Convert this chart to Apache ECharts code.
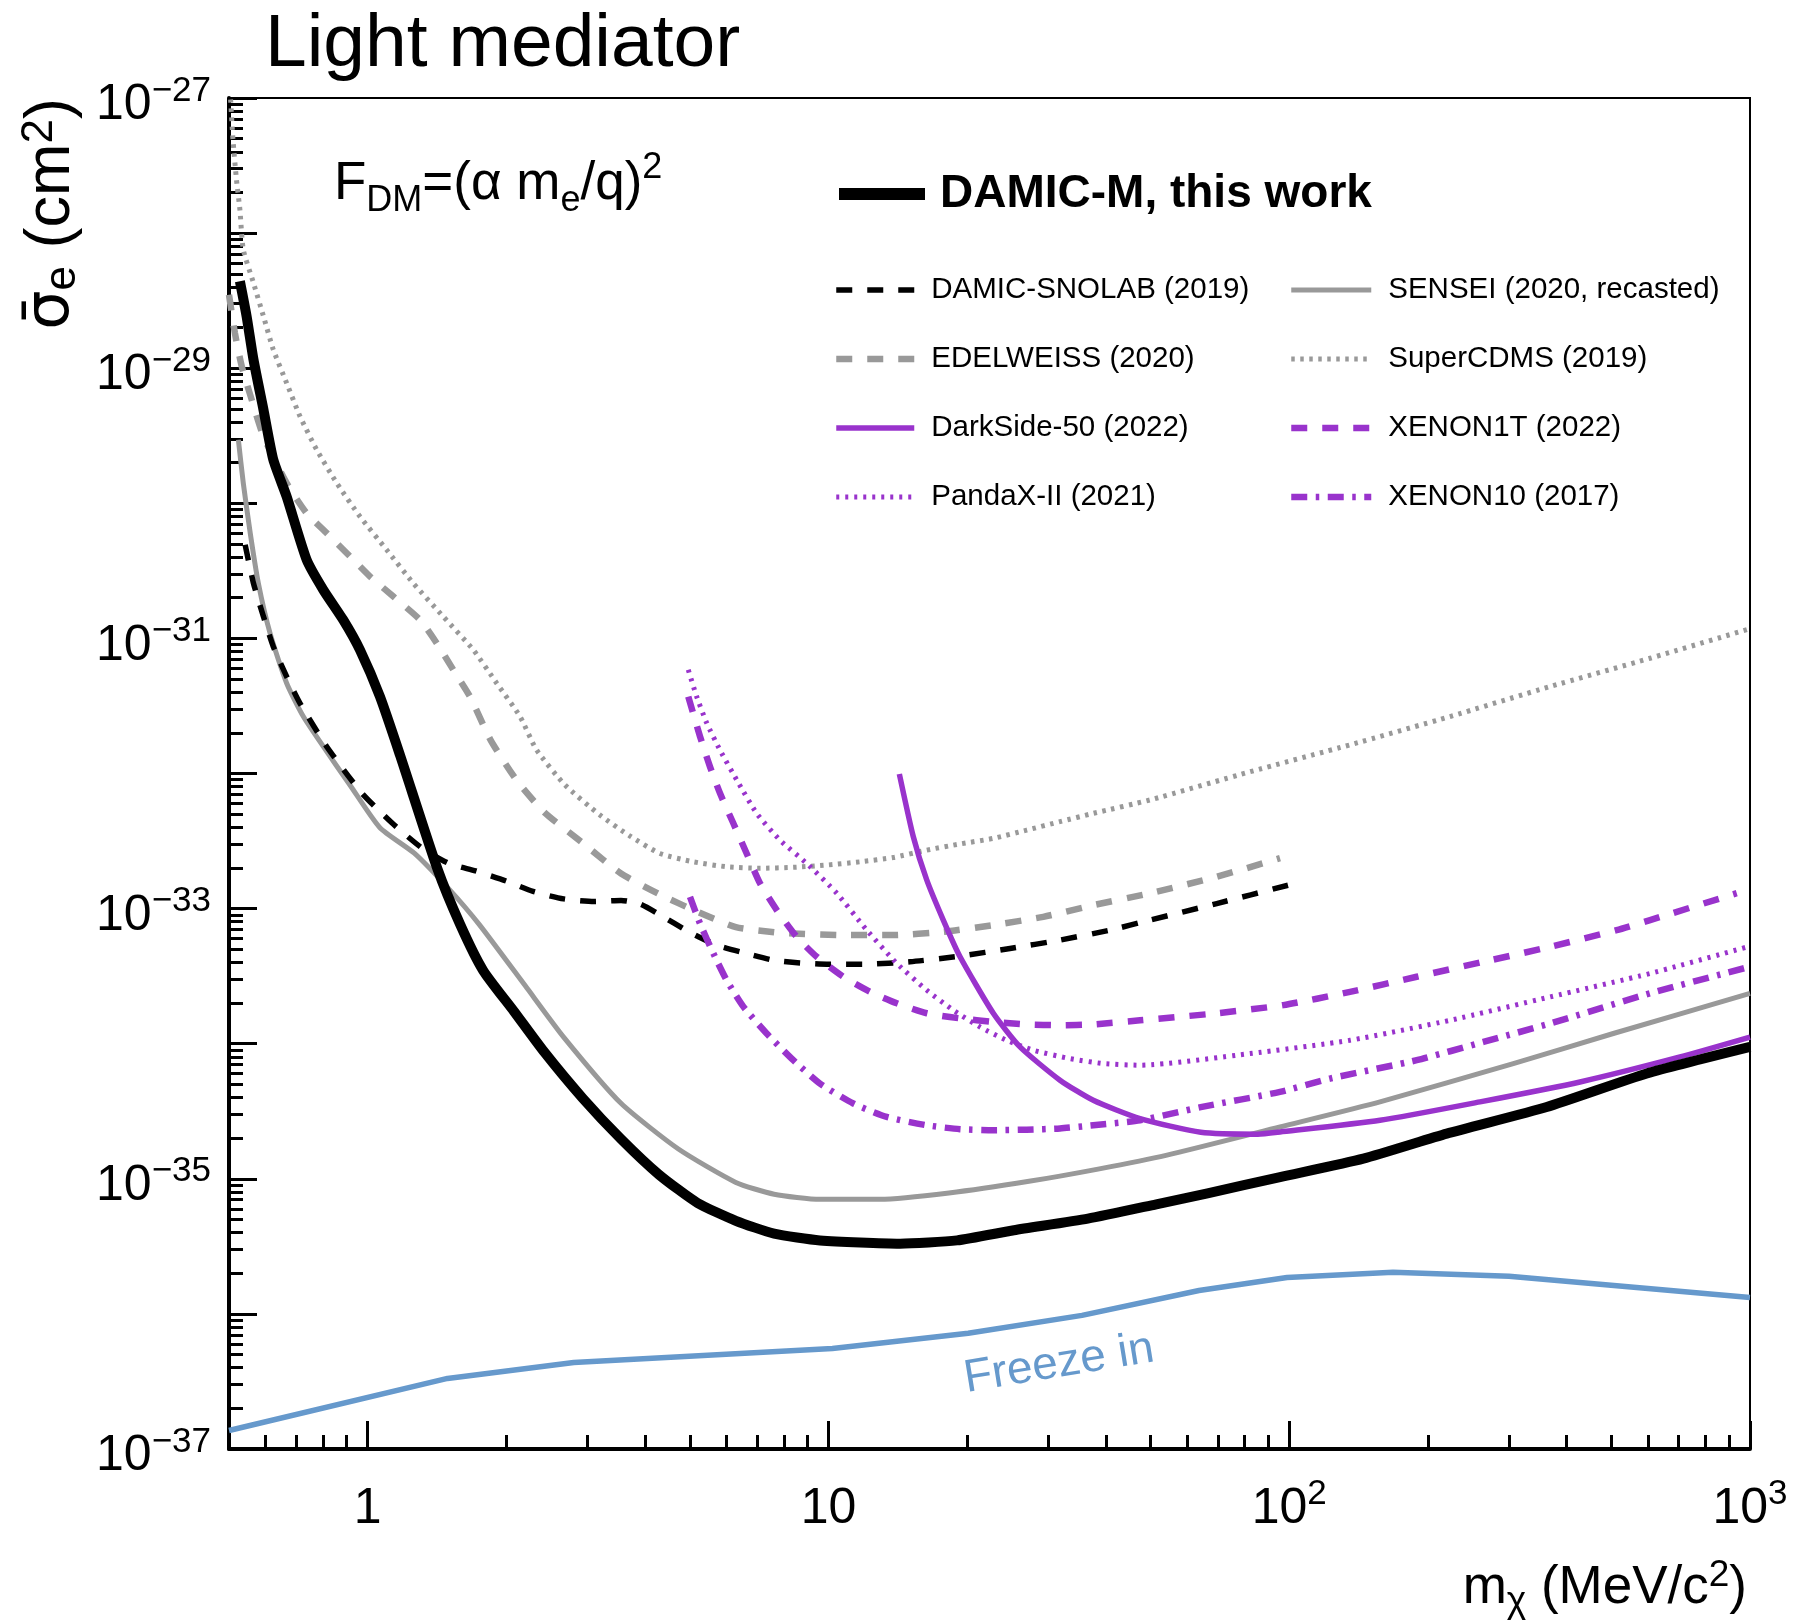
<!DOCTYPE html>
<html>
<head>
<meta charset="utf-8">
<script src="https://cdn.jsdelivr.net/npm/echarts@6/dist/echarts.min.js"></script>
<style>html,body{margin:0;padding:0;background:#fff}#chart{width:1793px;height:1624px}</style>
</head>
<body>
<div id="chart"></div>
<script>
// ---------------- data (m_chi in MeV/c^2, sigma_e in cm^2) ----------------
const xTickLabels = [1, 10, 100, 1000];
const yLabelExponents = [-37, -35, -33, -31, -29, -27];
const yDecadeExponents = [-37, -36, -35, -34, -33, -32, -31, -30, -29, -28, -27];

const damicM = [[0.528,4.40e-29],[0.546,2.42e-29],[0.565,1.16e-29],[0.594,4.93e-30],[0.624,2.10e-30],[0.667,1.12e-30],[0.737,3.82e-31],[0.801,2.29e-31],[0.885,1.37e-31],[0.962,8.22e-32],[1.063,3.71e-32],[1.175,1.37e-32],[1.416,1.98e-33],[1.588,7.61e-34],[1.781,3.48e-34],[2.076,1.74e-34],[2.418,8.65e-35],[2.928,3.95e-35],[3.546,1.97e-35],[4.292,1.07e-35],[5.197,6.63e-36],[6.295,4.89e-36],[7.622,3.93e-36],[9.586,3.50e-36],[14.30,3.31e-36],[19.01,3.50e-36],[25.26,4.16e-36],[36.56,5.07e-36],[51.45,6.47e-36],[66.47,7.81e-36],[95.5,1.03e-35],[144.8,1.41e-35],[219.7,2.16e-35],[362.1,3.40e-35],[597,6.02e-35],[1000,9.47e-35]];
const sensei = [[0.524,2.95e-30],[0.537,1.41e-30],[0.556,6.01e-31],[0.579,2.56e-31],[0.614,1.09e-31],[0.667,4.66e-32],[0.725,2.64e-32],[0.813,1.47e-32],[0.915,8.22e-33],[1.063,3.97e-33],[1.262,2.57e-33],[1.500,1.40e-33],[1.747,7.61e-34],[2.198,2.68e-34],[2.662,1.12e-34],[3.546,3.62e-35],[4.724,1.66e-35],[6.295,9.40e-36],[7.622,7.69e-36],[9.586,7.05e-36],[12.94,7.05e-36],[18.26,7.85e-36],[27.24,9.58e-36],[38.46,1.18e-35],[54.0,1.49e-35],[95.5,2.42e-35],[157.4,3.71e-35],[306.4,7.13e-35],[505.0,1.19e-34],[1000,2.36e-34]];
const damicSnolab = [[0.542,4.93e-31],[0.565,2.56e-31],[0.594,1.45e-31],[0.624,8.69e-32],[0.667,5.21e-32],[0.713,3.31e-32],[0.813,1.60e-32],[0.966,7.31e-33],[1.125,4.35e-33],[1.311,2.81e-33],[1.500,2.16e-33],[1.714,1.90e-33],[1.998,1.60e-33],[2.285,1.34e-33],[2.662,1.18e-33],[3.101,1.13e-33],[3.546,1.15e-33],[3.902,1.08e-33],[4.292,9.06e-34],[5.001,6.68e-34],[5.716,5.37e-34],[6.539,4.71e-34],[7.622,4.14e-34],[8.675,3.96e-34],[9.912,3.88e-34],[12.11,3.88e-34],[15.03,4.04e-34],[19.30,4.45e-34],[24.77,5.07e-34],[31.80,5.85e-34],[40.83,6.93e-34],[49.87,8.22e-34],[69.6,1.09e-33],[99.4,1.49e-33]];
const edelweiss = [[0.500,3.50e-29],[0.515,1.82e-29],[0.533,1.03e-29],[0.560,5.85e-30],[0.594,3.13e-30],[0.667,1.41e-30],[0.737,8.45e-31],[0.815,6.01e-31],[0.931,3.82e-31],[1.012,2.87e-31],[1.137,2.04e-31],[1.299,1.37e-31],[1.412,9.21e-32],[1.534,5.85e-32],[1.667,3.71e-32],[1.851,1.75e-32],[2.115,8.71e-33],[2.418,5.16e-33],[2.928,3.06e-33],[3.546,1.82e-33],[4.292,1.28e-33],[5.197,9.46e-34],[6.295,7.29e-34],[7.622,6.68e-34],[8.389,6.55e-34],[10.77,6.37e-34],[13.83,6.37e-34],[17.75,6.73e-34],[22.79,7.55e-34],[29.26,8.69e-34],[37.56,1.06e-33],[49.87,1.30e-33],[69.6,1.72e-33],[95.5,2.36e-33]];
const superCDMS = [[0.504,9.75e-28],[0.510,4.93e-28],[0.519,2.49e-28],[0.528,1.49e-28],[0.537,7.55e-29],[0.565,4.28e-29],[0.594,2.42e-29],[0.624,1.37e-29],[0.667,7.76e-30],[0.713,4.40e-30],[0.775,2.49e-30],[0.857,1.41e-30],[0.962,7.98e-31],[1.099,4.53e-31],[1.256,2.56e-31],[1.459,1.45e-31],[1.695,8.22e-32],[1.905,4.66e-32],[2.141,2.64e-32],[2.327,1.49e-32],[2.681,8.22e-33],[3.192,4.93e-33],[3.710,3.44e-33],[4.309,2.56e-33],[5.089,2.22e-33],[6.012,2.04e-33],[7.102,1.99e-33],[8.389,2.02e-33],[9.912,2.10e-33],[11.71,2.22e-33],[13.83,2.39e-33],[16.34,2.71e-33],[19.30,3.01e-33],[22.79,3.31e-33],[26.93,3.81e-33],[31.80,4.40e-33],[37.56,5.07e-33],[49.87,6.37e-33],[82.2,1.03e-32],[135.5,1.63e-32],[223.3,2.64e-32],[368.1,4.40e-32],[606.9,7.13e-32],[1000,1.18e-31]];
const darkSide = [[14.25,9.91e-33],[15.28,3.40e-33],[16.34,1.63e-33],[17.75,8.22e-34],[19.30,4.40e-34],[22.79,1.68e-34],[26.04,9.47e-35],[31.80,5.37e-35],[37.56,3.81e-35],[47.44,2.79e-35],[64.27,2.21e-35],[85.5,2.14e-35],[95.5,2.22e-35],[157.4,2.71e-35],[259.4,3.71e-35],[427.6,5.21e-35],[704.9,7.98e-35],[1000,1.12e-34]];
const xenon1T = [[4.963,3.71e-32],[5.263,1.88e-32],[5.533,1.12e-32],[5.816,7.13e-33],[6.216,4.28e-33],[6.645,2.56e-33],[7.102,1.54e-33],[7.722,9.75e-34],[8.533,6.18e-34],[9.430,4.40e-34],[10.77,3.13e-34],[12.31,2.42e-34],[14.07,1.99e-34],[16.34,1.68e-34],[19.30,1.54e-34],[22.79,1.45e-34],[26.93,1.39e-34],[31.80,1.37e-34],[37.56,1.39e-34],[47.44,1.49e-34],[69.6,1.68e-34],[97.1,1.93e-34],[135.5,2.42e-34],[189.1,3.13e-34],[263.8,4.04e-34],[368.1,5.21e-34],[513.6,6.93e-34],[606.9,8.22e-34],[935.8,1.30e-33]];
const pandaX = [[4.963,5.85e-32],[5.176,3.71e-32],[5.443,2.36e-32],[5.816,1.49e-32],[6.324,8.95e-33],[6.986,5.07e-33],[7.850,3.21e-33],[8.969,2.16e-33],[10.42,1.30e-33],[12.11,6.93e-34],[14.07,3.93e-34],[16.34,2.49e-34],[18.66,1.77e-34],[21.33,1.33e-34],[24.37,1.06e-34],[27.83,8.95e-35],[33.43,7.76e-35],[39.49,7.13e-35],[47.44,6.93e-35],[82.2,8.45e-35],[135.5,1.06e-34],[223.3,1.49e-34],[368.1,2.22e-34],[606.9,3.31e-34],[1000,5.27e-34]];
const xenon10 = [[5.006,1.22e-33],[5.263,7.76e-34],[5.626,4.66e-34],[6.012,2.95e-34],[6.535,1.88e-34],[7.344,1.19e-34],[8.389,7.55e-35],[9.586,5.07e-35],[11.32,3.61e-35],[13.38,2.87e-35],[16.34,2.49e-35],[19.30,2.33e-35],[22.79,2.29e-35],[26.93,2.31e-35],[31.80,2.36e-35],[37.56,2.49e-35],[47.44,2.71e-35],[64.27,3.39e-35],[95.5,4.40e-35],[122.6,5.52e-35],[189.1,7.55e-35],[263.8,1.03e-34],[368.1,1.41e-34],[606.9,2.36e-34],[983.7,3.66e-34]];
const freezeIn = [[0.50,1.37e-37],[1.49,3.33e-37],[2.80,4.37e-37],[10.2,5.55e-37],[20.1,7.18e-37],[35.5,9.75e-37],[63.7,1.49e-36],[98.9,1.86e-36],[168,2.03e-36],[300,1.90e-36],[1000,1.32e-36]];

// ---------------- styles ----------------
const FONT = "'Liberation Sans', Arial, Helvetica, sans-serif";
const PURPLE = '#9933cc', GRAY = '#999999';
const STY = {
  'DAMIC-M, this work':      {color:'#000', width:10,  dash:'solid'},
  'DAMIC-SNOLAB (2019)':     {color:'#000', width:5.5, dash:[16,15]},
  'SENSEI (2020, recasted)': {color:GRAY,   width:5,   dash:'solid'},
  'EDELWEISS (2020)':        {color:GRAY,   width:6.5, dash:[16,15]},
  'SuperCDMS (2019)':        {color:GRAY,   width:5,   dash:[3.5,5.5]},
  'DarkSide-50 (2022)':      {color:PURPLE, width:5.5, dash:'solid'},
  'XENON1T (2022)':          {color:PURPLE, width:6.5, dash:[16,15]},
  'PandaX-II (2021)':        {color:PURPLE, width:5,   dash:[3,6]},
  'XENON10 (2017)':          {color:PURPLE, width:6.5, dash:[16,8.5,3.5,8.5]},
  'Freeze in':               {color:'#6699cc', width:5.5, dash:'solid'}
};

// minor tick positions (2..9 x each decade)
const xMinorTicks = [];
[0.1, 1, 10, 100].forEach(d => { for (let k = 2; k <= 9; k++) { const v = +(k * d).toPrecision(3); if (v > 0.5) xMinorTicks.push(v); } });
const yMinorExp = [];
for (let e = -37; e <= -28; e++) for (let k = 2; k <= 9; k++) yMinorExp.push(e + Math.log10(k));

const tickRich = {
  b: {fontFamily: FONT, fontSize: 50, lineHeight: 64, color: '#000'},
  s: {fontFamily: FONT, fontSize: 35, lineHeight: 14, verticalAlign: 'top', color: '#000'}
};
function supStr(e) { return e < 0 ? '\u2212' + (-e) : String(e); }
function xFmt(v) {
  const e = Math.round(Math.log10(v));
  if (e === 0) return '{b|1}';
  if (e === 1) return '{b|10}';
  return '{b|10}{s|' + supStr(e) + '}';
}
function yFmt(v) { return '{b|10}{s|' + supStr(Math.round(v)) + '}'; }

function mkSeries(name, data, extra) {
  const s = STY[name];
  return Object.assign({
    name, type: 'line', data, symbol: 'none', showSymbol: false, smooth: 0.2,
    clip: true, silent: true, animation: false, yAxisIndex: 0, xAxisIndex: 0,
    lineStyle: {color: s.color, width: s.width, type: s.dash, cap: 'butt', join: 'round'},
    itemStyle: {color: s.color},
    emphasis: {disabled: true}
  }, extra || {});
}
function legItem(name, w) {
  const s = STY[name];
  return {name, lineStyle: {color: s.color, width: w || s.width, type: s.dash, cap: 'butt'}};
}

const chart = echarts.init(document.getElementById('chart'), null, {renderer: 'canvas'});
const noSplit = {splitLine: {show: false}, splitArea: {show: false}, nameMoveOverlap: false};

chart.setOption({
  animation: false,
  backgroundColor: '#fff',
  textStyle: {fontFamily: FONT},
  title: [
    {text: 'Light mediator', left: 265, top: 8, padding: 0,
     textStyle: {fontFamily: FONT, fontSize: 75, fontWeight: 'normal', color: '#000', lineHeight: 75}},
    {text: '{n|F}{sub|DM}{n|=(\u03B1 m}{sub|e}{n|/q)}{sup|2}', left: 334, top: 150, padding: 0,
     textStyle: {fontFamily: FONT, fontSize: 52, fontWeight: 'normal', color: '#000',
       rich: {
         n: {fontFamily: FONT, fontSize: 53, lineHeight: 69, color: '#000'},
         sub: {fontFamily: FONT, fontSize: 36, lineHeight: 34, verticalAlign: 'bottom', color: '#000'},
         sup: {fontFamily: FONT, fontSize: 36, lineHeight: 40, verticalAlign: 'top', color: '#000'}
       }}}
  ],
  grid: {left: 229, top: 98, width: 1521, height: 1351, show: true, borderColor: '#000', borderWidth: 2,
         containLabel: false, outerBoundsMode: 'none'},
  xAxis: [
    Object.assign({type: 'log', logBase: 10}, noSplit, {
      min: 0.5, max: 1000, position: 'bottom',
      axisLine: {show: true, onZero: false, lineStyle: {color: '#000', width: 4}},
      axisTick: {show: true, inside: true, length: 28, lineStyle: {color: '#000', width: 3}, customValues: xTickLabels},
      axisLabel: {show: true, customValues: xTickLabels, formatter: xFmt, rich: tickRich, margin: 28, color: '#000'},
      name: '{n|m}{sub|\u03C7}{n| (MeV/c}{sup|2}{n|)}',
      nameLocation: 'end', nameGap: -3,
      nameTextStyle: {align: 'right', verticalAlign: 'top', padding: [108, 0, 0, 0], color: '#000',
        rich: {
          n: {fontFamily: FONT, fontSize: 53, lineHeight: 63, color: '#000'},
          sub: {fontFamily: FONT, fontSize: 37, lineHeight: 36, verticalAlign: 'bottom', color: '#000'},
          sup: {fontFamily: FONT, fontSize: 37, lineHeight: 2, verticalAlign: 'top', color: '#000'}
        }}
    }),
    Object.assign({type: 'log', logBase: 10}, noSplit, {
      min: 0.5, max: 1000, position: 'bottom',
      axisLine: {show: false},
      axisTick: {show: true, inside: true, length: 14, lineStyle: {color: '#000', width: 3}, customValues: xMinorTicks},
      axisLabel: {show: false}
    })
  ],
  yAxis: [
    // log axis carrying the series
    Object.assign({type: 'log', logBase: 10}, noSplit, {
      min: 1e-37, max: 1e-27, position: 'left',
      axisLine: {show: false}, axisTick: {show: false}, axisLabel: {show: false}
    }),
    // decade ticks / labels (log10 of sigma)
    Object.assign({type: 'value'}, noSplit, {
      min: -37, max: -27, position: 'left',
      axisLine: {show: true, onZero: false, lineStyle: {color: '#000', width: 4}},
      axisTick: {show: true, inside: true, length: 28, lineStyle: {color: '#000', width: 3}, customValues: yDecadeExponents},
      axisLabel: {show: true, customValues: yLabelExponents, formatter: yFmt, rich: tickRich, margin: 18,
                  padding: [15, 0, 0, 0], color: '#000'},
      name: '{g|\u03C3\u0304}{sub|e}{n| (cm}{sup|2}{n|)}',
      nameLocation: 'end', nameGap: 0, nameRotate: 90,
      nameTextStyle: {align: 'right', verticalAlign: 'bottom', padding: [0, 0, 144, 0], color: '#000',
        rich: {
          g: {fontFamily: "'DejaVu Sans', " + FONT, fontSize: 62, lineHeight: 67, color: '#000'},
          n: {fontFamily: FONT, fontSize: 63, lineHeight: 67, color: '#000'},
          sub: {fontFamily: FONT, fontSize: 44, lineHeight: 24, verticalAlign: 'bottom', color: '#000'},
          sup: {fontFamily: FONT, fontSize: 44, lineHeight: 2, verticalAlign: 'top', color: '#000'}
        }}
    }),
    Object.assign({type: 'value'}, noSplit, {
      min: -37, max: -27, position: 'left',
      axisLine: {show: false},
      axisTick: {show: true, inside: true, length: 14, lineStyle: {color: '#000', width: 3}, customValues: yMinorExp},
      axisLabel: {show: false}
    })
  ],
  legend: [
    {orient: 'vertical', left: 833, top: 171, padding: 0, itemWidth: 86, itemHeight: 12, itemGap: 10,
     selectedMode: false, itemStyle: {opacity: 0},
     textStyle: {fontFamily: FONT, fontSize: 46, fontWeight: 'bold', color: '#000', lineHeight: 46, padding: [0, 0, 0, 10]},
     data: [legItem('DAMIC-M, this work', 12)]},
    {orient: 'vertical', left: 833, top: 275, padding: 0, itemWidth: 78, itemHeight: 14, itemGap: 39,
     selectedMode: false, itemStyle: {opacity: 0},
     textStyle: {fontFamily: FONT, fontSize: 29.5, color: '#000', lineHeight: 30, padding: [0, 0, 0, 12]},
     data: [legItem('DAMIC-SNOLAB (2019)'), legItem('EDELWEISS (2020)'), legItem('DarkSide-50 (2022)'), legItem('PandaX-II (2021)')]},
    {orient: 'vertical', left: 1288, top: 275, padding: 0, itemWidth: 80, itemHeight: 14, itemGap: 39,
     selectedMode: false, itemStyle: {opacity: 0},
     textStyle: {fontFamily: FONT, fontSize: 29.5, color: '#000', lineHeight: 30, padding: [0, 0, 0, 12]},
     data: [legItem('SENSEI (2020, recasted)'), legItem('SuperCDMS (2019)'), legItem('XENON1T (2022)'), legItem('XENON10 (2017)')]}
  ],
  graphic: [
    {type: 'text', x: 1059, y: 1364, rotation: 0.162, silent: true, z: 10,
     style: {text: 'Freeze in', fill: '#6699cc', font: '46px ' + FONT, align: 'center', verticalAlign: 'middle'}}
  ],
  series: [
    mkSeries('Freeze in', freezeIn, {smooth: false}),
    mkSeries('SuperCDMS (2019)', superCDMS),
    mkSeries('EDELWEISS (2020)', edelweiss),
    mkSeries('SENSEI (2020, recasted)', sensei),
    mkSeries('DAMIC-SNOLAB (2019)', damicSnolab),
    mkSeries('PandaX-II (2021)', pandaX),
    mkSeries('XENON10 (2017)', xenon10),
    mkSeries('XENON1T (2022)', xenon1T),
    mkSeries('DarkSide-50 (2022)', darkSide),
    mkSeries('DAMIC-M, this work', damicM, {z: 3})
  ]
});
</script>
</body>
</html>
